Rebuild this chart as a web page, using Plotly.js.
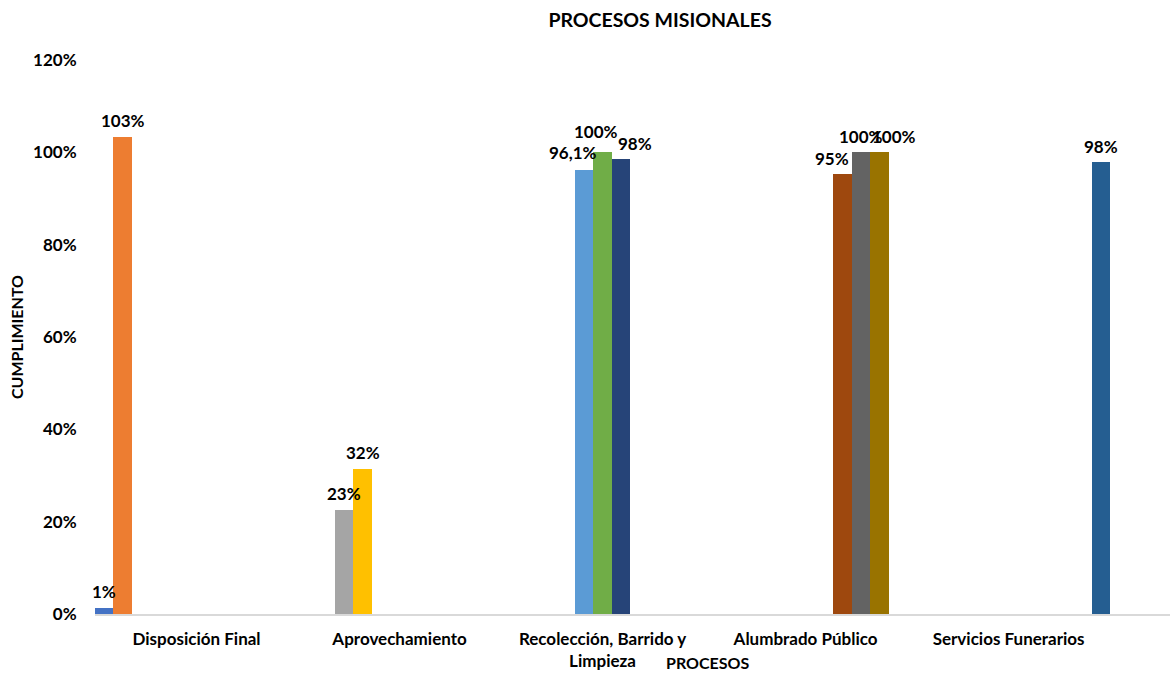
<!DOCTYPE html>
<html>
<head>
<meta charset="utf-8">
<script src="https://cdn.plot.ly/plotly-3.0.1.min.js"></script>
<style>html,body{margin:0;padding:0;background:#fff;}#chart{width:1170px;height:673px;}</style>
</head>
<body>
<div id="chart"></div>
<script>
// Categories (processes)
const categories = ["Disposición Final", "Aprovechamiento", "Recolección, Barrido y<br>Limpieza", "Alumbrado Público", "Servicios Funerarios"];
// One series per bar: the category each belongs to, its value and its label
const seriesCategory = [0, 0, 1, 1, 2, 2, 2, 3, 3, 3, 4];
const seriesValues = [0.012, 1.034, 0.226, 0.315, 0.961, 1.0, 0.985, 0.952, 1.0, 1.0, 0.98];
const seriesLabels = ["1%", "103%", "23%", "32%", "96,1%", "100%", "98%", "95%", "100%", "100%", "98%"];
const yTickValues = [0, 0.2, 0.4, 0.6, 0.8, 1.0, 1.2];
const yTickLabels = ["0%", "20%", "40%", "60%", "80%", "100%", "120%"];

// Styles
const colors = ["#4472C4", "#ED7D31", "#A5A5A5", "#FFC000", "#5B9BD5", "#70AD47", "#264478", "#9E480E", "#636363", "#997300", "#255E91"];
const labelShiftX = [0, 0, 0, 0, -11, -7, 14, -10, 0, 15, 0];
const labelShiftY = [4, 4, 4, 4, 5, 8, 3, 3, 3, 3, 3];

const FONT = "Lato, 'Open Sans', 'DejaVu Sans', sans-serif";
const N = seriesValues.length;

const traces = seriesValues.map((v, i) => ({
  type: "bar",
  x: [categories[seriesCategory[i]]],
  y: [v],
  marker: {color: colors[i], line: {width: 0}},
  hoverinfo: "skip",
  showlegend: false
}));

const annotations = seriesValues.map((v, i) => ({
  xref: "x", yref: "y",
  x: seriesCategory[i] + (i - (N - 1) / 2) / N,
  y: v,
  text: seriesLabels[i],
  showarrow: false,
  xanchor: "center", yanchor: "bottom",
  xshift: labelShiftX[i], yshift: labelShiftY[i],
  font: {family: FONT, size: 17, color: "#000", weight: "bold"}
}));

annotations.push({
  xref: "paper", yref: "paper",
  x: (707 - 95) / 1075, y: -0.088,
  text: "PROCESOS", showarrow: false,
  xanchor: "center", yanchor: "middle",
  font: {family: FONT, size: 16, color: "#000", weight: "bold"}
});

const layout = {
  width: 1170, height: 673,
  margin: {l: 95, r: 0, t: 60, b: 59},
  paper_bgcolor: "#fff", plot_bgcolor: "#fff",
  barmode: "group", bargap: 0, bargroupgap: 0,
  title: {
    text: "PROCESOS MISIONALES",
    xref: "container", yref: "container",
    x: 660 / 1170, y: 1 - 20 / 673, xanchor: "center", yanchor: "middle",
    font: {family: FONT, size: 19.5, color: "#000", weight: "bold"}
  },
  xaxis: {
    type: "category",
    categoryorder: "array", categoryarray: categories,
    range: [-0.5, 4.795],
    showgrid: false, zeroline: false,
    showline: true, linecolor: "#D9D9D9", linewidth: 1.5,
    ticks: "outside", ticklen: 9, tickcolor: "rgba(0,0,0,0)",
    tickfont: {family: FONT, size: 17, color: "#000", weight: "bold"}
  },
  yaxis: {
    range: [0, 1.2],
    tickvals: yTickValues, ticktext: yTickLabels,
    showgrid: false, zeroline: false, showline: false,
    ticks: "outside", ticklen: 14, tickcolor: "rgba(0,0,0,0)",
    tickfont: {family: FONT, size: 17, color: "#000", weight: "bold"},
    title: {text: "CUMPLIMIENTO", standoff: 5, font: {family: FONT, size: 16, color: "#000", weight: "bold"}}
  },
  annotations: annotations,
  font: {family: FONT}
};

Plotly.newPlot("chart", traces, layout, {displayModeBar: false, staticPlot: true});
</script>
</body>
</html>
